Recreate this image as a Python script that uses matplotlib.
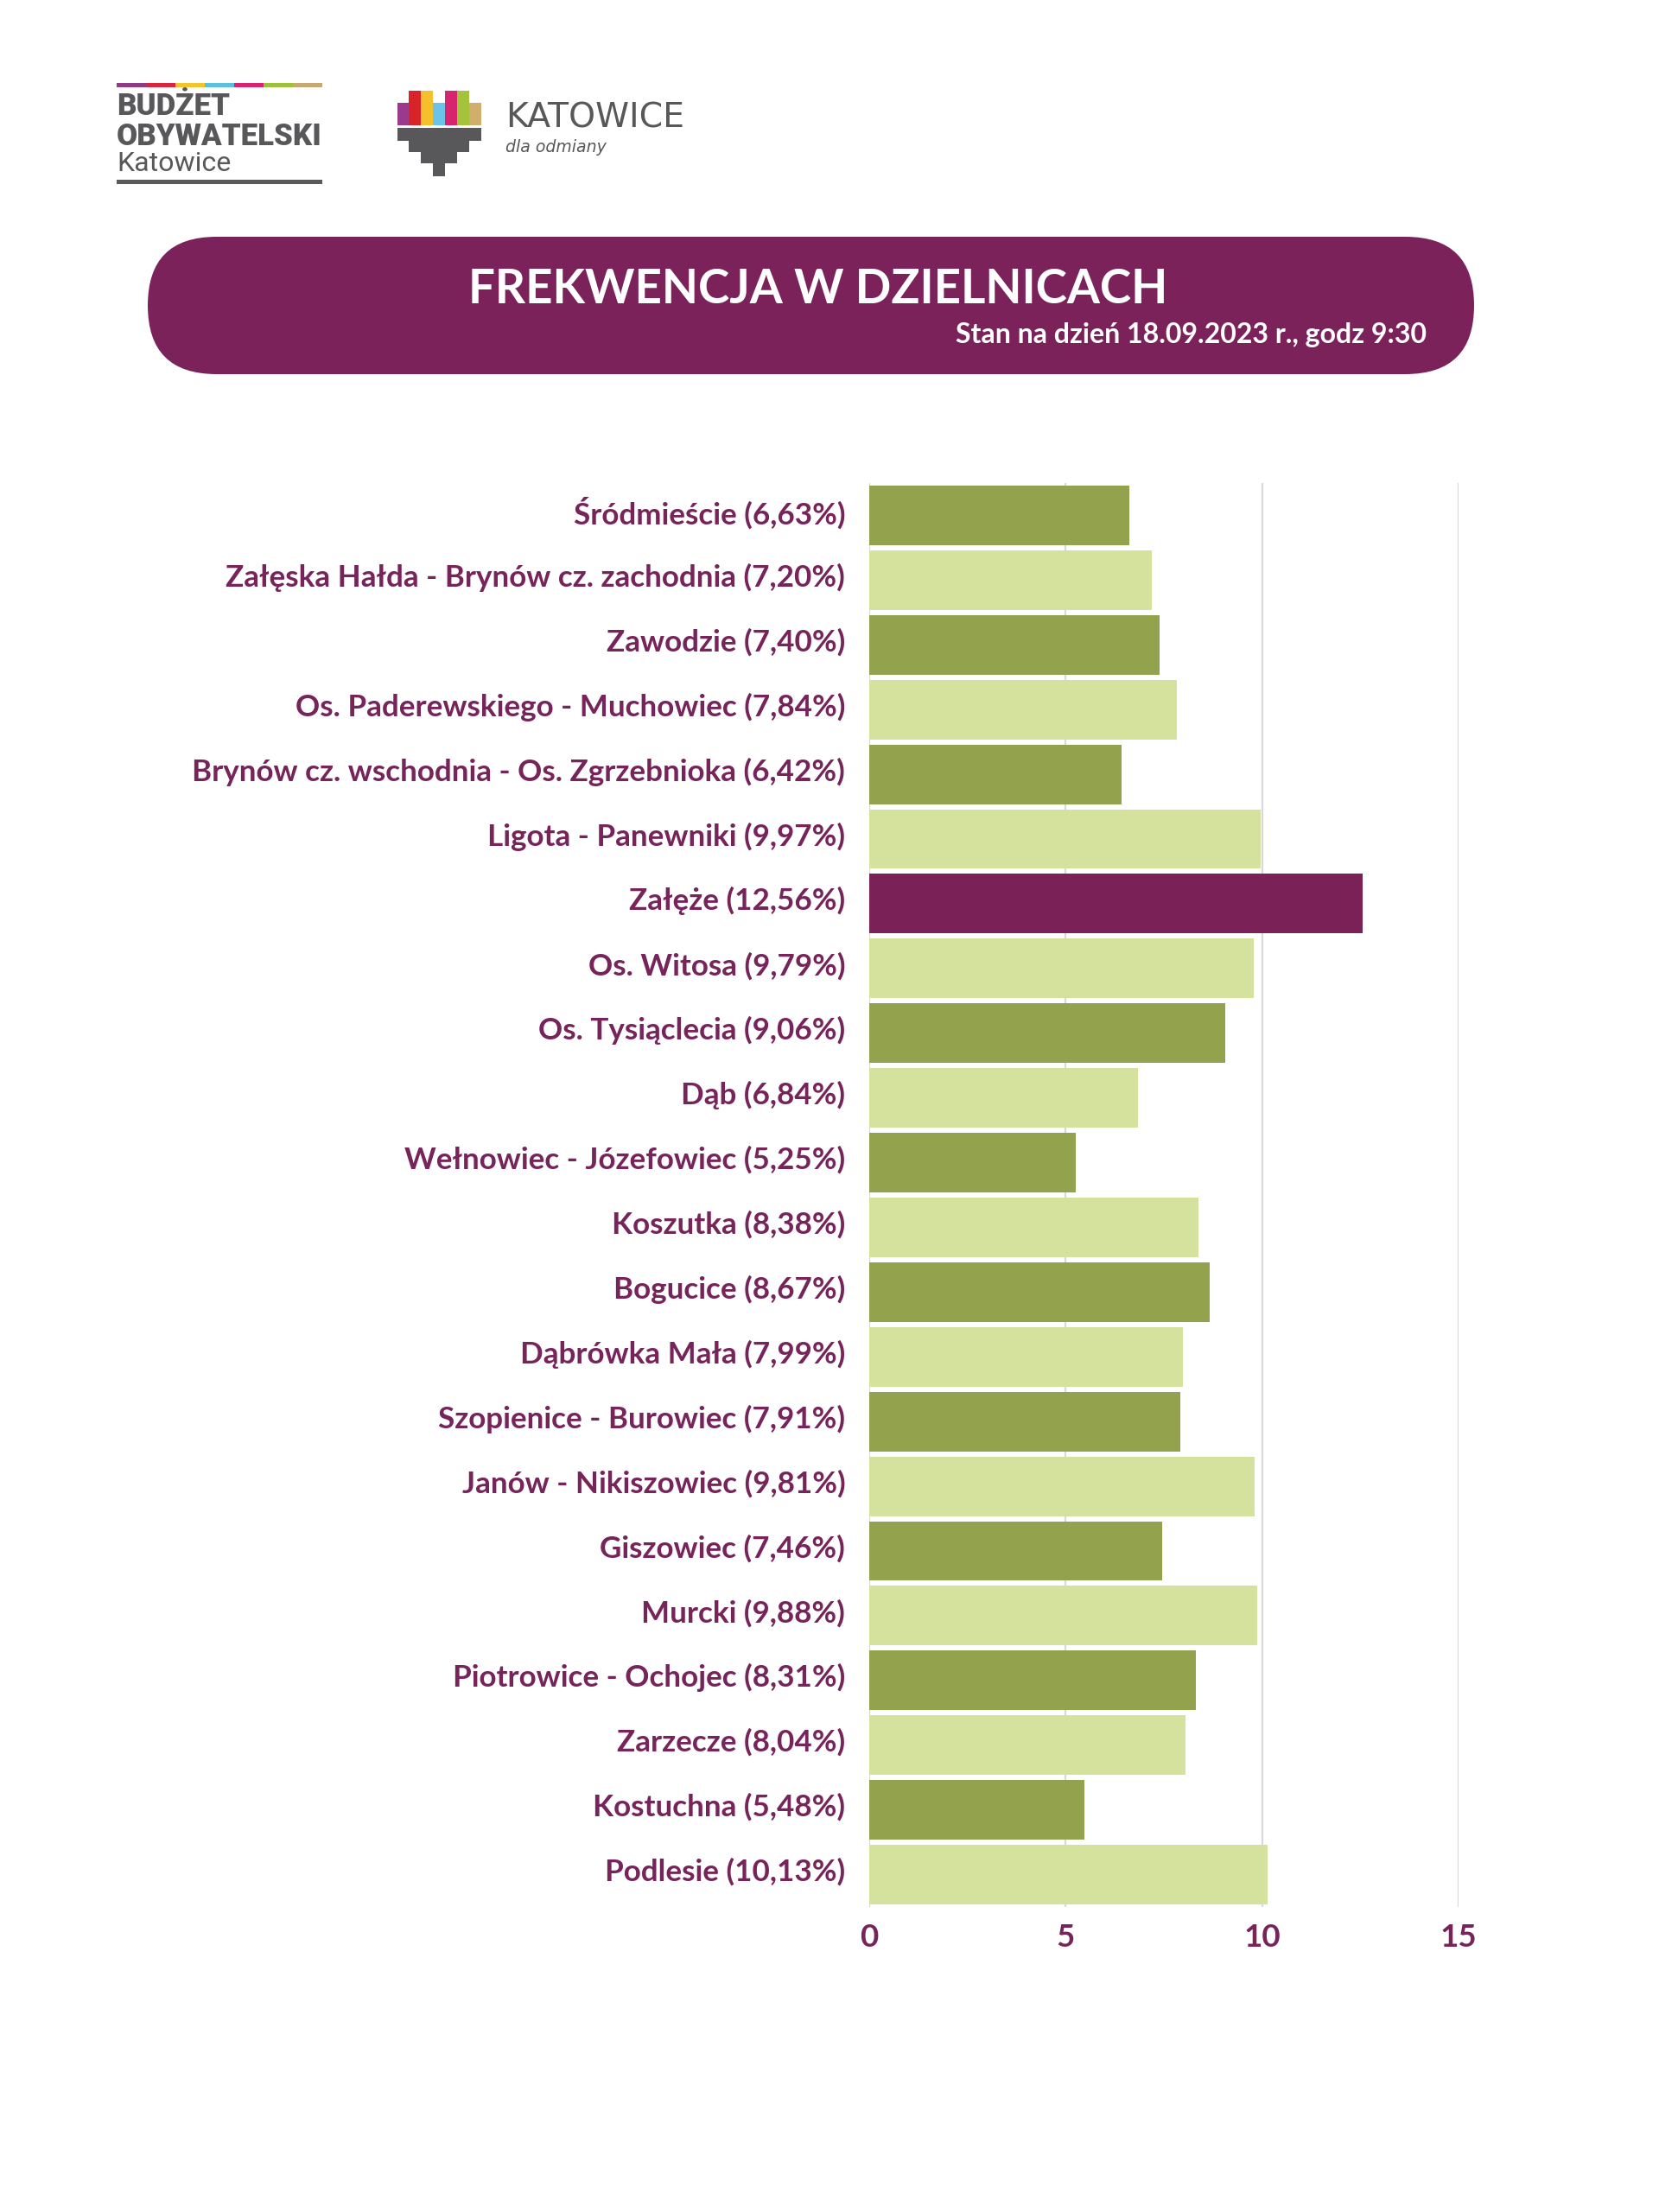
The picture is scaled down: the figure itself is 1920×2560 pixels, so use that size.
import matplotlib
matplotlib.use("Agg")
import matplotlib.pyplot as plt
import matplotlib.transforms as mtrans
from matplotlib.patches import FancyBboxPatch, Rectangle

# ---------------- data ----------------
districts = [
    "Śródmieście",
    "Załęska Hałda - Brynów cz. zachodnia",
    "Zawodzie",
    "Os. Paderewskiego - Muchowiec",
    "Brynów cz. wschodnia - Os. Zgrzebnioka",
    "Ligota - Panewniki",
    "Załęże",
    "Os. Witosa",
    "Os. Tysiąclecia",
    "Dąb",
    "Wełnowiec - Józefowiec",
    "Koszutka",
    "Bogucice",
    "Dąbrówka Mała",
    "Szopienice - Burowiec",
    "Janów - Nikiszowiec",
    "Giszowiec",
    "Murcki",
    "Piotrowice - Ochojec",
    "Zarzecze",
    "Kostuchna",
    "Podlesie",
]
turnout = [6.63, 7.20, 7.40, 7.84, 6.42, 9.97, 12.56, 9.79, 9.06, 6.84, 5.25,
           8.38, 8.67, 7.99, 7.91, 9.81, 7.46, 9.88, 8.31, 8.04, 5.48, 10.13]
bar_kind = ["dark", "light", "dark", "light", "dark", "light", "highlight",
            "light", "dark", "light", "dark", "light", "dark", "light", "dark",
            "light", "dark", "light", "dark", "light", "dark", "light"]
x_ticks = [0, 5, 10, 15]

title = "FREKWENCJA W DZIELNICACH"
subtitle = "Stan na dzień 18.09.2023 r., godz 9:30"

# ---------------- style ----------------
PURPLE = "#7A2259"
TEXT_PURPLE = "#76245A"
palette = {"dark": "#93A34D", "light": "#D5E29E", "highlight": "#7A2157"}
GREY = "#58585A"
FONT = ["Lato", "DejaVu Sans"]

W, H = 1920, 2560
fig = plt.figure(figsize=(W / 100, H / 100), dpi=100)
fig.patch.set_facecolor("white")
renderer = fig.canvas.get_renderer()


def width_of(s, size, **kw):
    t = fig.text(0, 0, s, fontsize=size, **kw)
    w = t.get_window_extent(renderer).width
    t.remove()
    return w


def fit_size(s, target, **kw):
    return 20 * target / width_of(s, 20, **kw)


labels = [f"{d} (" + f"{v:.2f}".replace(".", ",") + "%)"
          for d, v in zip(districts, turnout)]

# ---------------- chart ----------------
ax_left, ax_right, ax_top, ax_bot = 1006, 1688, 559, 2207
ax = fig.add_axes([ax_left / W, 1 - ax_bot / H, (ax_right - ax_left) / W,
                   (ax_bot - ax_top) / H])
ypos = list(range(len(districts)))
ax.barh(ypos, turnout, height=0.92, color=[palette[k] for k in bar_kind],
        zorder=3)
ax.set_xlim(0, 15)
ax.set_ylim(len(districts) - 0.5, -0.5)
ax.grid(axis="x", color="#D9D9D9", linewidth=1.6, zorder=0)
ax.grid(axis="y", visible=False)
for sp in ax.spines.values():
    sp.set_visible(False)

lab_size = fit_size(labels[4], 756, fontweight="bold", family=FONT)
ax.set_yticks(ypos)
ax.set_yticklabels(labels, fontsize=lab_size, fontweight="bold",
                   color=TEXT_PURPLE, family=FONT)
ax.set_xticks(x_ticks)
ax.set_xticklabels([str(t) for t in x_ticks], fontsize=lab_size * 1.05,
                   fontweight="bold", color=TEXT_PURPLE, family=FONT)
ax.tick_params(axis="y", length=0, pad=20)
ax.tick_params(axis="x", length=0, pad=14)
shift = mtrans.ScaledTranslation(0, 6 / 100, fig.dpi_scale_trans)
for lbl in ax.get_yticklabels():
    lbl.set_transform(lbl.get_transform() + shift)

# ---------------- overlay (header & logos) ----------------
ov = fig.add_axes([0, 0, 1, 1], zorder=5)
ov.set_xlim(0, W)
ov.set_ylim(H, 0)
ov.axis("off")
ov.patch.set_alpha(0)

# title pill
px0, py0, pw, ph = 171, 274, 1535, 159
r = ph / 2
ov.add_patch(FancyBboxPatch((px0, py0), pw, ph,
                            boxstyle=f"round,pad=0,rounding_size={r}",
                            facecolor=PURPLE, edgecolor="none"))
ts = fit_size(title, 810, fontweight="bold", family=FONT)
ov.text(947, 351, title, ha="center", va="baseline", color="white",
        fontsize=ts, fontweight="bold", family=FONT)
ss = fit_size(subtitle, 546, fontweight="bold", family=FONT)
ov.text(1651, 397, subtitle, ha="right", va="baseline", color="white",
        fontsize=ss, fontweight="bold", family=FONT)

# logo 1: Budżet Obywatelski Katowice
stripe_cols = ["#8E3B84", "#D7263D", "#F4C430", "#5BC0DE", "#D6246E",
               "#9CC23A", "#C8A872"]
x0, x1 = 135, 373
seg = (x1 - x0) / len(stripe_cols)
for i, c in enumerate(stripe_cols):
    ov.add_patch(Rectangle((x0 + i * seg, 96), seg, 4.5, facecolor=c,
                           edgecolor="none"))
ov.add_patch(Rectangle((x0, 208), x1 - x0, 5, facecolor="#5A5A5C",
                       edgecolor="none"))
LOGO_FONT = ["Roboto", "DejaVu Sans"]
s1 = fit_size("OBYWATELSKI", 238, fontweight="heavy", family=LOGO_FONT)
ov.text(x0, 133, "BUDŻET", fontsize=s1, fontweight="heavy", color=GREY,
        family=LOGO_FONT, va="baseline", ha="left")
ov.text(x0, 168, "OBYWATELSKI", fontsize=s1, fontweight="heavy", color=GREY,
        family=LOGO_FONT, va="baseline", ha="left")
s2 = fit_size("Katowice", 132, fontweight="normal", family=LOGO_FONT)
ov.text(x0, 198, "Katowice", fontsize=s2, fontweight="normal", color=GREY,
        family=LOGO_FONT, va="baseline", ha="left")

# logo 2: Katowice dla odmiany
bar_edges = [460, 473, 487, 501, 515, 529, 543, 557]
bar_tops = [119, 105, 105, 119, 105, 105, 119]
kcols = ["#9B3A8C", "#D8232A", "#F5C02C", "#6BC4E8", "#D6246E", "#A3C43A",
         "#D2AE6D"]
for i, c in enumerate(kcols):
    ov.add_patch(Rectangle((bar_edges[i], bar_tops[i]),
                           bar_edges[i + 1] - bar_edges[i], 145 - bar_tops[i],
                           facecolor=c, edgecolor="none"))
steps = [(460, 557, 148, 162), (473, 543, 162, 175), (487, 529, 175, 188),
         (501, 515, 188, 203)]
for (a, b, t, btm) in steps:
    ov.add_patch(Rectangle((a, t), b - a, btm - t + 0.5, facecolor=GREY,
                           edgecolor="none"))
s3 = fit_size("KATOWICE", 207, family=["DejaVu Sans"])
ov.text(585, 147, "KATOWICE", fontsize=s3, color=GREY, family=["DejaVu Sans"],
        va="baseline", ha="left")
s4 = fit_size("dla odmiany", 117, style="italic", family=["DejaVu Sans"])
ov.text(585, 176, "dla odmiany", fontsize=s4, color=GREY, style="italic",
        family=["DejaVu Sans"], va="baseline", ha="left")

fig.savefig("out.png", dpi=100, facecolor="white")
